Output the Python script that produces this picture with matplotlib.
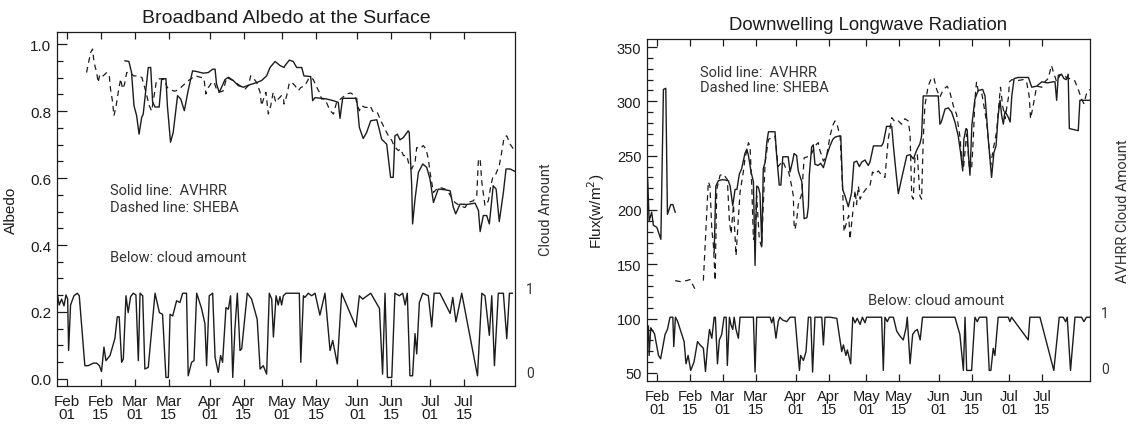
import numpy as np
import pandas as pd
import matplotlib
matplotlib.use("Agg")
import matplotlib.pyplot as plt
import matplotlib.dates as mdates
from matplotlib.ticker import MultipleLocator, FixedLocator
from matplotlib.transforms import ScaledTranslation

nan = np.nan

# ---------------- data (days since 1998-02-01) ----------------
start_date = "1998-02-01"
tick_dates = ["1998-02-01", "1998-02-15", "1998-03-01", "1998-03-15", "1998-04-01", "1998-04-15",
              "1998-05-01", "1998-05-15", "1998-06-01", "1998-06-15", "1998-07-01", "1998-07-15"]

alb_avhrr_day = [24.0, 25.6, 26.7, 27.7, 28.8, 29.8, 30.9, 31.5, 33.6, 34.6, 35.4, 36.4, 38.1, 39.1, 40.9, 41.5,
                 42.8, 43.9, 45.7, 47.0, 48.5, 50.1, 51.9, 53.6, 56.3, 58.4, 60.2, 61.2, 61.8, 62.9, 63.9, 65.3,
                 66.7, 68.7, 70.8, 72.9, 74.9, 78.4, 80.4, 82.5, 83.9, 86.0, 88.0, 89.7, 90.1, 91.9, 93.5, 94.9,
                 97.0, 97.9, 100.7, 101.5, 102.5, 105.2, 107.3, 110.0, 112.1, 112.8, 113.9, 116.9, 119.7, 120.8,
                 122.4, 123.8, 125.5, 128.0, 129.0, 130.0, 132.1, 133.7, 134.8, 135.5, 136.5, 137.6, 139.0, 141.0,
                 141.4, 142.4, 142.8, 143.8, 145.2, 147.0, 148.6, 150.0, 151.4, 153.4, 156.2, 158.3, 159.6, 160.6,
                 162.4, 165.2, 168.6, 170.0, 170.7, 172.0, 173.4, 174.5, 176.1, 177.3, 178.6, 180.3, 181.4, 183.1,
                 185.0]
alb_avhrr = [0.950, 0.948, 0.915, 0.816, 0.786, 0.731, 0.782, 0.790, 0.930, 0.930, 0.827, 0.812, 0.812, 0.894,
             0.897, 0.816, 0.707, 0.736, 0.846, 0.836, 0.801, 0.862, 0.920, 0.918, 0.913, 0.915, 0.925, 0.925,
             0.881, 0.856, 0.871, 0.894, 0.901, 0.891, 0.876, 0.871, 0.877, 0.885, 0.891, 0.905, 0.930, 0.948,
             0.936, 0.930, 0.936, 0.952, 0.948, 0.930, 0.930, 0.905, 0.903, 0.831, 0.840, 0.838, 0.836, 0.831,
             0.826, 0.778, 0.838, 0.838, 0.838, 0.751, 0.718, 0.736, 0.771, 0.774, 0.746, 0.716, 0.701, 0.602,
             0.602, 0.726, 0.731, 0.714, 0.721, 0.741, 0.736, 0.583, 0.463, 0.537, 0.617, 0.642, 0.632, 0.597,
             0.527, 0.567, 0.565, 0.562, 0.513, 0.493, 0.522, 0.521, 0.525, 0.503, 0.440, 0.488, 0.488, 0.463,
             0.577, 0.567, 0.470, 0.557, 0.627, 0.627, 0.620]

alb_sheba_day = [8.1, 9.8, 10.6, 11.2, 12.3, 12.9, 13.6, 15.0, 16.4, 17.5, 18.0, 18.9, 19.4, 20.2, 21.2, 22.2,
                 23.0, 23.8, 24.7, 26.0, 27.6, 29.5, 31.0, 32.5, 34.0, 35.0, 37.0, 38.1, 40.0, 41.5, 42.6, 44.0,
                 45.0, 47.0, 50.0, 53.0, 55.6, 56.6, 57.4, 58.4, 59.8, 60.8, 61.8, 62.9, 64.5, 66.0, 68.7, 71.4,
                 73.6, 75.0, 75.9, 76.9, 78.4, 79.8, 80.4, 81.4, 82.2, 83.2, 84.2, 85.2, 86.3, 87.3, 88.6, 89.4,
                 89.7, 90.8, 91.9, 92.9, 94.2, 95.6, 96.6, 98.0, 99.0, 100.1, 101.7, 103.2, 104.3, 105.2, 106.6,
                 108.7, 110.1, 111.4, 115.6, 117.2, 119.0, 119.7, 120.8, 121.8, 123.1, 124.1, 125.2, 126.6, 128.2,
                 130.0, 131.4, 132.8, 134.2, 135.1, 136.2, 136.9, 137.9, 139.0, 140.4, 141.4, 142.4, 143.8, 144.5,
                 145.9, 147.2, 148.3, 149.3, 150.0, 151.4, 152.8, 154.1, 156.2, 157.6, 158.9, 160.3, 162.4, 164.5,
                 165.8, 167.9, 169.3, 170.0, 170.7, 171.4, 172.7, 174.1, 175.1, 175.9, 176.9, 178.6, 179.6, 180.6,
                 181.7, 183.1, 184.4]
alb_sheba = [0.915, 0.975, 0.985, 0.945, 0.915, 0.885, 0.910, 0.905, 0.915, 0.905, 0.866, 0.826, 0.786, 0.810,
             0.856, 0.896, 0.866, 0.880, 0.915, 0.915, 0.905, 0.905, 0.900, 0.860, 0.816, 0.800, 0.891, 0.896,
             0.897, 0.870, 0.866, 0.860, 0.860, 0.870, 0.890, 0.905, 0.900, 0.897, 0.851, 0.870, 0.885, 0.887,
             0.865, 0.856, 0.860, 0.900, 0.891, 0.876, 0.866, 0.876, 0.905, 0.900, 0.885, 0.856, 0.816, 0.840,
             0.856, 0.791, 0.816, 0.856, 0.826, 0.836, 0.846, 0.841, 0.821, 0.846, 0.885, 0.885, 0.876, 0.861,
             0.870, 0.875, 0.885, 0.900, 0.895, 0.871, 0.856, 0.836, 0.836, 0.801, 0.791, 0.826, 0.851, 0.854,
             0.846, 0.826, 0.801, 0.816, 0.811, 0.811, 0.816, 0.796, 0.796, 0.766, 0.746, 0.726, 0.712, 0.697,
             0.687, 0.682, 0.687, 0.667, 0.667, 0.637, 0.627, 0.647, 0.691, 0.687, 0.697, 0.687, 0.657, 0.617,
             0.557, 0.567, 0.572, 0.567, 0.557, 0.542, 0.527, 0.517, 0.512, 0.527, 0.532, 0.547, 0.657, 0.657,
             0.587, 0.517, 0.532, 0.577, 0.602, 0.607, 0.637, 0.677, 0.721, 0.726, 0.701, 0.687]

alb_cloud_day = [-4.0, -3.2, -2.2, -1.2, -0.4, 0.3, 0.7, 1.5, 2.9, 4.3, 5.1, 7.4, 8.8, 10.9, 12.3, 13.4, 14.3,
                 15.3, 16.1, 17.8, 19.8, 20.8, 21.6, 22.6, 23.3, 24.4, 25.3, 26.3, 27.4, 28.5, 29.5, 30.2, 31.3,
                 32.2, 33.6, 36.4, 38.2, 39.5, 40.9, 41.9, 42.6, 43.7, 45.3, 46.7, 47.8, 49.4, 50.1, 51.5, 52.5,
                 53.6, 55.6, 57.0, 57.7, 58.8, 60.2, 61.2, 62.5, 63.5, 64.3, 65.7, 66.7, 67.6, 68.5, 69.4, 70.4,
                 71.5, 72.2, 74.5, 76.3, 78.6, 79.8, 81.1, 82.5, 83.6, 84.6, 85.3, 86.4, 87.3, 88.0, 88.7, 89.4,
                 90.5, 94.9, 96.0, 96.6, 97.7, 98.3, 99.7, 101.1, 102.5, 104.5, 106.6, 108.7, 109.8, 111.7, 113.5,
                 119.4, 120.8, 122.2, 123.1, 125.5, 129.1, 130.4, 131.4, 132.4, 134.2, 135.5, 137.3, 138.7, 139.7,
                 140.6, 141.7, 142.8, 143.8, 144.5, 145.6, 147.0, 149.3, 150.7, 151.7, 154.1, 158.3, 159.4, 160.7,
                 163.1, 169.6, 171.4, 172.7, 174.5, 175.5, 176.6, 178.2, 180.3, 181.7, 182.8, 184.0]
alb_cloud = [1.0, 0.86, 0.93, 0.85, 0.98, 0.93, 0.32, 0.86, 0.97, 1.0, 0.97, 0.14, 0.14, 0.17, 0.17, 0.14, 0.07,
             0.36, 0.20, 0.26, 0.46, 0.72, 0.72, 0.18, 0.22, 0.97, 0.77, 0.96, 1.0, 0.98, 0.20, 1.0, 0.97,
             0.10, 0.12, 1.0, 0.77, 0.75, 0.0, 0.0, 0.75, 0.73, 0.91, 0.89, 1.0, 1.0, 0.02, 0.18, 0.20,
             1.0, 0.82, 0.64, 0.14, 0.97, 1.0, 0.24, 0.06, 0.26, 0.18, 0.83, 0.81, 0.97, 0.0, 0.58, 1.0,
             0.32, 0.34, 1.0, 0.93, 0.69, 0.10, 0.14, 0.04, 1.0, 0.93, 0.48, 0.97, 0.86, 0.96, 0.86, 0.97,
             1.0, 1.0, 1.0, 0.18, 0.97, 0.95, 1.0, 0.97, 1.0, 0.74, 1.0, 0.32, 0.44, 0.16, 1.0,
             0.60, 0.97, 0.93, 0.95, 1.0, 0.82, 0.04, 1.0, 0.0, 0.0, 1.0, 0.97, 1.0, 0.86,
             1.0, 0.02, 0.02, 0.52, 0.28, 0.89, 1.0, 0.97, 0.60, 1.0, 1.0, 0.76, 0.95, 0.66,
             1.0, 0.02, 1.0, 0.97, 0.50, 0.97, 0.14, 1.0, 1.0, 0.46, 1.0, 1.0]

lw_avhrr_day = [-4.0, -3.4, -2.3, -1.6, -0.1, 1.6, 2.7, 3.7, 4.4, 5.8, 6.7, 7.7, 15.0,
                24.3, 25.0, 26.1, 28.0, 30.3, 31.1, 32.2, 33.2, 34.0, 35.0, 36.0, 37.4, 38.2, 38.9, 40.0, 41.0,
                41.7, 42.4, 43.1, 43.8, 44.6, 45.2, 46.0, 46.7, 47.4, 50.2, 50.9, 52.0, 52.7, 53.5, 54.9, 55.8,
                56.6, 57.7, 58.3, 59.4, 60.1, 61.6, 62.6, 63.8, 64.4, 64.8, 65.8, 66.5, 67.2, 68.6, 69.6, 70.8,
                72.2, 73.6, 74.8, 75.7, 77.2, 78.2, 78.6, 79.0, 80.0, 81.4, 82.8, 83.8, 85.0, 86.1, 87.1, 88.5,
                89.9, 90.6, 92.1, 93.5, 95.6, 96.3, 97.7, 99.9, 100.6, 101.7, 102.7, 104.1, 106.3, 107.7, 109.1,
                110.5, 111.9, 112.6, 113.3, 114.8, 119.7, 120.4, 121.0, 122.6, 124.0, 125.4, 126.8, 128.2, 129.2,
                130.1, 130.6, 131.5, 132.0, 132.6, 133.2, 134.0, 135.3, 136.7, 138.6, 139.6, 141.0, 142.4, 143.4,
                144.3, 145.2, 146.0, 146.7, 147.4, 148.1, 149.6, 150.3, 151.0, 152.0, 153.8, 158.1, 159.5, 161.6,
                163.8, 166.1, 168.7, 169.4, 170.1, 170.8, 172.2, 173.2, 174.2, 175.0, 175.5, 179.3, 180.0, 184.3]
lw_avhrr = [228, 190, 198, 186, 184, 173, 311, 312, 196, 205, 205, 198, nan,
            161, 222, 227, 228, 227, 222, 204, 219, 219, 233, 238, 252, 256, 250, 235, 226,
            149, 222, 221, 215, 167, 238, 244, 262, 272, 272, 250, 223, 223, 249, 249, 249,
            235, 245, 252, 250, 236, 226, 192, 193, 203, 232, 258, 260, 242, 241, 243, 239,
            250, 259, 265, 267, 268, 268, 244, 219, 213, 203, 216, 244, 245, 240, 244, 246,
            241, 244, 259, 259, 259, 262, 277, 277, 259, 235, 215, 229, 250, 251, 247,
            255, 261, 268, 305, 305, 305, 279, 281, 293, 294, 290, 281, 268, 253,
            236, 265, 275, 274, 250, 232, 278, 302, 310, 311, 305, 265, 230, 253,
            259, 287, 301, 287, 279, 291, 285, 281, 305, 321, 322, 322, 313, 314,
            318, 317, 318, 318, 301, 324, 325, 321, 320, 325, 275, 273, 301, 301]

lw_sheba_day = [7.7, 10.1, 12.6, 14.0, 15.2, 16.2, 18.0,
                19.7, 20.9, 21.8, 22.5, 23.3, 24.0, 24.7, 25.4, 26.8, 28.2, 29.9, 30.8, 31.5, 32.5, 33.6, 34.6,
                35.3, 36.7, 37.4, 38.9, 39.6, 40.3, 41.0, 41.7, 42.4, 43.5, 44.5, 45.2, 46.0, 47.4, 50.2, 51.5,
                53.5, 54.9, 56.0, 57.3, 58.0, 58.3, 58.7, 59.4, 60.1, 61.6, 62.6, 64.0, 65.1, 65.8, 67.2, 68.6,
                69.3, 70.8, 72.2, 73.6, 74.8, 75.7, 76.7, 77.9, 79.0, 79.6, 80.7, 81.6, 82.1, 83.3, 84.3, 84.9,
                85.7, 86.4, 87.8, 89.2, 90.6, 91.7, 92.8, 94.2, 95.6, 97.0, 98.4, 99.9, 101.3, 102.7, 104.1,
                105.5, 106.9, 107.7, 108.4, 109.1, 109.8, 110.8, 111.9, 112.6, 113.3, 114.0, 115.4, 116.9, 117.9,
                119.0, 120.4, 121.9, 123.5, 124.7, 126.1, 127.5, 128.9, 129.7, 130.4, 131.8, 132.9, 133.9, 134.6,
                135.3, 136.0, 136.7, 138.1, 140.3, 142.0, 143.1, 144.6, 145.7, 146.2, 147.1, 148.1, 149.6, 150.0,
                151.0, 153.1, 155.9, 157.3, 158.4, 159.0, 160.1, 161.6, 163.8, 165.1, 166.5, 167.9, 168.7, 170.1,
                171.5, 172.9, 174.2, 175.6, 177.8, 179.3, 180.7, 181.7, 182.8, 184.3]
lw_sheba = [135, 134, 135, 136, 131, 127, nan,
            135, 186, 226, 222, 182, 167, 135, 219, 232, 233, 228, 189, 178, 205, 158, 192,
            216, 235, 247, 262, 258, 222, 173, 178, 213, 173, 166, 205, 244, 265, 268, 240,
            245, 238, 235, 222, 213, 187, 182, 190, 205, 215, 248, 249, 250, 252, 259, 262,
            255, 245, 250, 268, 278, 282, 278, 268, 219, 180, 189, 195, 173, 198, 218, 205,
            222, 210, 216, 220, 222, 235, 233, 236, 232, 230, 265, 285, 281, 282, 279,
            284, 282, 270, 213, 210, 250, 251, 213, 210, 265, 296, 314, 322, 321,
            311, 304, 311, 314, 308, 296, 288, 268, 247, 238, 270, 240, 238, 265,
            302, 318, 310, 309, 281, 241, 256, 273, 302, 313, 296, 284, 304, 318,
            320, 319, 320, 318, 305, 284, 296, 314, 313, 318, 321, 333, 327, 318,
            324, 325, 322, 321, 319, 311, 302, 298, 307, 311]

lw_cloud_day = [-3.7, -3.4, -2.7, -1.1, 0.6, 1.5, 3.4, 4.4, 5.5, 6.7, 7.1, 7.8, 8.7, 11.5, 12.3, 13.2, 14.3,
                15.7, 17.2, 18.3, 19.7, 20.6, 21.4, 22.3, 23.3, 24.3, 24.8, 25.7, 26.5, 27.5, 28.5, 29.4, 29.9,
                30.8, 31.4, 32.2, 32.8, 33.6, 34.6, 35.3, 41.0, 41.7, 42.4, 48.1, 48.8, 49.5, 50.6, 51.6, 52.3,
                53.4, 55.2, 56.6, 58.7, 60.6, 61.1, 62.3, 63.4, 64.4, 65.4, 66.2, 67.2, 70.1, 70.8, 71.5, 73.6,
                76.5, 78.6, 79.3, 80.4, 81.0, 82.4, 83.3, 84.3, 85.2, 86.4, 87.4, 88.5, 89.2, 95.6, 96.3, 97.0,
                98.0, 98.9, 100.6, 102.0, 103.4, 104.8, 106.0, 106.5, 107.7, 108.8, 109.8, 110.8, 112.0, 113.0,
                126.8, 128.9, 130.4, 131.1, 131.8, 133.9, 135.3, 136.3, 137.2, 140.3, 141.4, 142.1, 143.1, 143.8,
                145.2, 149.5, 150.2, 150.9, 158.0, 158.7, 163.0, 168.9, 171.2, 172.9, 173.9, 174.6, 176.0, 177.9,
                180.7, 181.7, 182.8, 184.3]
lw_cloud = [0.84, 0.31, 0.81, 0.70, 0.31, 0.25, 0.69, 0.78, 1.0, 1.0, 0.47, 1.0, 0.93, 0.56, 0.16, 0.31, 0.04,
            0.19, 0.56, 0.50, 0.44, 0.02, 0.44, 0.78, 0.62, 1.0, 1.0, 0.16, 0.59, 0.69, 1.0, 1.0, 0.13,
            1.0, 0.87, 0.78, 1.0, 0.78, 0.62, 1.0, 1.0, 0.01, 1.0, 1.0, 0.90, 1.0, 0.62, 0.93, 1.0,
            0.95, 0.92, 1.0, 1.0, 0.04, 0.31, 0.22, 0.38, 1.0, 1.0, 0.01, 1.0, 1.0, 0.50, 1.0, 1.0,
            0.98, 0.38, 0.50, 0.31, 0.41, 0.16, 1.0, 0.90, 0.98, 0.87, 1.0, 0.90, 1.0, 1.0, 0.04, 1.0,
            0.92, 1.0, 1.0, 0.75, 0.66, 0.59, 0.81, 1.0, 0.16, 0.69, 0.75, 0.78, 0.59, 1.0,
            1.0, 0.69, 0.04, 1.0, 0.04, 0.04, 1.0, 0.92, 1.0, 1.0, 0.04, 0.04, 0.44, 0.31,
            1.0, 1.0, 0.92, 1.0, 0.59, 1.0, 1.0, 0.04, 1.0, 1.0, 0.92, 1.0, 0.04, 1.0,
            1.0, 0.92, 1.0, 1.0]

# ---------------- styling ----------------
MAIN_FONT = ["Liberation Sans", "DejaVu Sans"]
THIN_FONT = ["Roboto", "Lato", "DejaVu Sans"]
INK = "#1c1c1c"
SOFT = "#333333"
plt.rcParams["font.family"] = MAIN_FONT

base = mdates.date2num(pd.Timestamp(start_date).to_pydatetime())


def dnum(days):
    return base + np.asarray(days, dtype=float)


tick_nums = [mdates.date2num(pd.Timestamp(d).to_pydatetime()) for d in tick_dates]

fig = plt.figure(figsize=(11.3, 4.27), dpi=100)


def style_axes(ax, fs):
    ax.xaxis.set_major_locator(FixedLocator(tick_nums))
    ax.xaxis.set_major_formatter(mdates.DateFormatter("%b\n%d"))
    ax.tick_params(axis="both", which="both", direction="in", top=True, right=True,
                   colors=INK, labelsize=fs, width=0.9)
    ax.tick_params(axis="x", which="major", length=5, pad=6)
    ax.tick_params(axis="y", which="major", length=7, pad=4)
    ax.tick_params(axis="y", which="minor", length=4)
    for lab in ax.get_xticklabels():
        lab.set_linespacing(0.85)
    for sp in ax.spines.values():
        sp.set_linewidth(0.9)
        sp.set_color(INK)


def cloud_axis(ax, ylim, label, label_x):
    ax2 = ax.twinx()
    ax2.set_ylim(*ylim)
    ax2.set_yticks([0, 1])
    ax2.set_yticklabels(["0", "1"], family=THIN_FONT, fontsize=10, color=SOFT)
    ax2.tick_params(axis="y", length=0, pad=8)
    for lab in ax2.get_yticklabels():
        lab.set_transform(lab.get_transform() + ScaledTranslation(0, 4 / 72, fig.dpi_scale_trans))
    for sp in ax2.spines.values():
        sp.set_visible(False)
    ax2.set_ylabel(label, family=THIN_FONT, fontsize=10.5, color=SOFT)
    ax2.yaxis.set_label_coords(label_x, 0.5)
    return ax2


# ---------------- left panel: albedo ----------------
axL = fig.add_axes([57 / 1130, 1 - 387 / 427, 458 / 1130, 354 / 427])
axL.plot(dnum(alb_avhrr_day), alb_avhrr, color=INK, lw=1.0)
axL.plot(dnum(alb_sheba_day), alb_sheba, color=INK, lw=0.9, dashes=(4.5, 3.5))
axL.set_xlim(dnum(-4.1), dnum(185.1))
axL.set_ylim(-0.021, 1.036)
axL.yaxis.set_major_locator(MultipleLocator(0.2))
axL.yaxis.set_minor_locator(MultipleLocator(0.05))
axL.yaxis.set_major_formatter(matplotlib.ticker.FormatStrFormatter("%.1f"))
style_axes(axL, 11)
axL.set_ylabel("Albedo", fontsize=11, color=INK, labelpad=9)
axL.set_title("Broadband Albedo at the Surface", fontsize=14, color=INK, pad=7)
axL2 = cloud_axis(axL, ((-0.021 - 0.0045) / 0.2515, (1.036 - 0.0045) / 0.2515), "Cloud Amount", 1.052)
axL2.plot(dnum(alb_cloud_day), alb_cloud, color=INK, lw=1.0)
for txt, yy in [("Solid line:  AVHRR", 0.542), ("Dashed line: SHEBA", 0.494), ("Below: cloud amount", 0.353)]:
    axL.text(0.116, yy, txt, transform=axL.transAxes, family=THIN_FONT, fontsize=10.5,
             color=SOFT, va="baseline")

# ---------------- right panel: downwelling longwave ----------------
axR = fig.add_axes([647 / 1130, 1 - 382 / 427, 443 / 1130, 342 / 427])
axR.plot(dnum(lw_avhrr_day), lw_avhrr, color=INK, lw=1.0)
axR.plot(dnum(lw_sheba_day), lw_sheba, color=INK, lw=0.9, dashes=(4.5, 3.5))
axR.set_xlim(dnum(-4.3), dnum(184.3))
axR.set_ylim(42.6, 357.4)
axR.yaxis.set_major_locator(MultipleLocator(50))
axR.yaxis.set_minor_locator(MultipleLocator(10))
style_axes(axR, 10.5)
axR.set_ylabel("Flux(w/m$^2$)", fontsize=11, color=INK, labelpad=7)
axR.set_title("Downwelling Longwave Radiation", fontsize=13.4, color=INK, pad=7)
axR2 = cloud_axis(axR, ((42.6 - 50.3) / 51.0, (357.4 - 50.3) / 51.0), "AVHRR Cloud Amount", 1.058)
axR2.plot(dnum(lw_cloud_day), lw_cloud, color=INK, lw=1.0)
for txt, xx, yy in [("Solid line:  AVHRR", 0.120, 0.892), ("Dashed line: SHEBA", 0.120, 0.848),
                    ("Below: cloud amount", 0.499, 0.225)]:
    axR.text(xx, yy, txt, transform=axR.transAxes, family=THIN_FONT, fontsize=10.5,
             color=SOFT, va="baseline")

fig.savefig("out.png", dpi=100, facecolor="white")
